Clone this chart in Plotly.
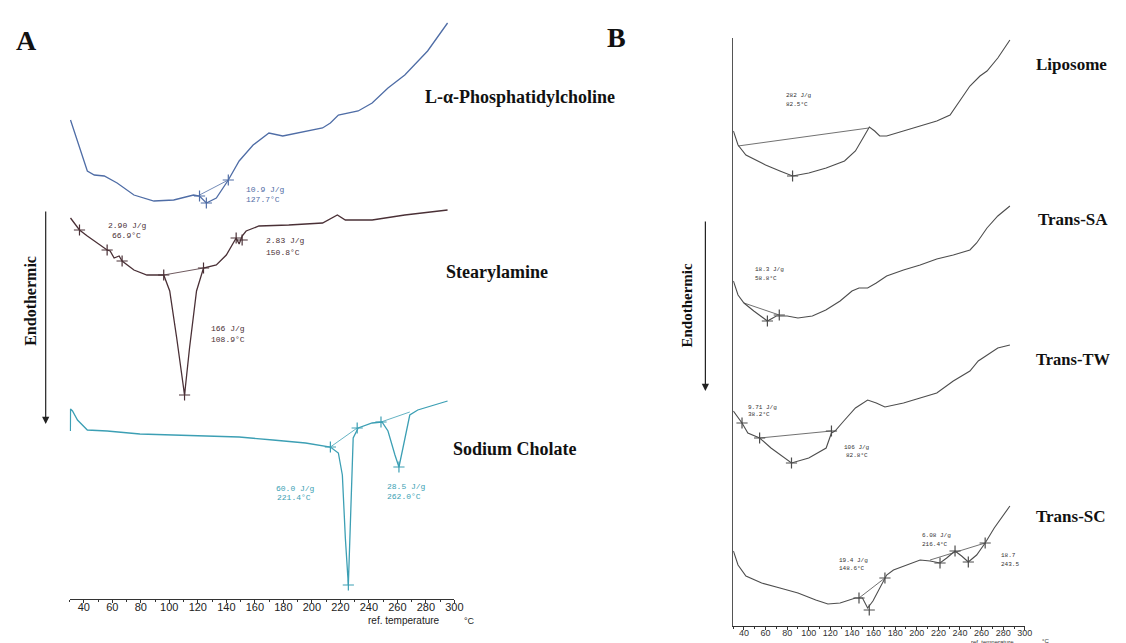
import plotly.graph_objects as go

W, H = 1126, 643

# ---------------- Panel A data (temperature °C, heat-flow signal a.u.) ----------------
pc_T = [30.7, 37.0, 42.5, 47.4, 54.4, 63.4, 75.2, 89.2, 103.1, 117.0, 121.2, 126.0, 133.0, 141.4, 149.0,
        158.8, 169.9, 179.6, 190.8, 207.5, 213.0, 218.6, 232.5, 242.3, 253.4, 265.2, 281.2, 295.2]
pc_v = [479, 451, 428, 424, 423, 416, 404, 398, 399, 404, 403, 396, 401, 419, 438,
        454, 466, 463, 466, 471, 476, 484, 488, 496, 511, 524, 548, 576]
pc_base_T = [121.2, 141.4]
pc_base_v = [404, 419]
pc_mark_T = [121.2, 126.0, 141.4]
pc_mark_v = [403, 396, 419]

sa_T = [30.7, 37.0, 42.5, 49.5, 56.4, 58.5, 61.3, 64.8, 66.9, 75.2, 84.3, 96.1, 100.3, 105.2, 110.7,
        114.2, 119.1, 124.0, 133.0, 140.0, 146.9, 149.0, 151.1, 153.9, 162.9, 183.8, 207.5, 217.9,
        223.5, 242.3, 265.2, 295.2]
sa_v = [381, 369, 363, 356, 349, 348, 341, 343, 338, 329, 324, 324, 308, 261, 204,
        251, 308, 331, 334, 344, 361, 355, 363, 368, 373, 374, 376, 384,
        379, 379, 384, 389]
sa_base_T = [96.1, 124.0]
sa_base_v = [324, 331]
sa_mark_T = [37.0, 56.4, 66.9, 96.1, 110.7, 124.0, 146.9, 151.1]
sa_mark_v = [369, 349, 338, 324, 204, 331, 361, 359]

sc_T = [30.6, 30.7, 32.1, 35.6, 42.5, 56.4, 79.4, 103.1, 137.9, 149.0, 172.7, 195.6, 213.0, 218.6,
        221.4, 223.5, 225.6, 227.0, 229.0, 232.5, 242.3, 249.2, 253.4, 258.3, 261.1, 263.9, 268.7,
        274.3, 295.2]
sc_v = [168, 190, 188, 179, 169, 168, 165, 164, 163, 162, 159, 156, 152, 146,
        124, 61, 14, 78, 161, 171, 176, 177, 168, 144, 132, 151, 184,
        189, 198]
sc_base1_T = [213.0, 231.8]
sc_base1_v = [152, 171]
sc_base2_T = [248.5, 268.7]
sc_base2_v = [177, 187]
sc_mark_T = [213.0, 225.6, 231.8, 248.5, 261.1]
sc_mark_v = [152, 14, 171, 177, 132]

# ---------------- Panel B data ----------------
lip_T = [30.2, 34.5, 41.8, 60.0, 73.3, 85.0, 100.0, 116.1, 133.1, 143.2, 151.3, 156.1, 161.0, 165.7,
         172.1, 187.7, 203.1, 218.5, 230.8, 240.0, 249.2, 258.5, 265.0, 275.0, 286.2]
lip_v = [495, 481, 471, 461, 455, 450, 453, 458, 465, 475, 490, 499, 495, 490,
         490, 495, 500, 505, 511, 525, 540, 550, 555, 568, 586]
lip_base_T = [34.5, 155.5]
lip_base_v = [480, 498]
lip_mark_T = [85.0]
lip_mark_v = [450]

tsa_T = [30.2, 34.5, 40.0, 49.1, 61.7, 70.0, 80.0, 90.0, 103.3, 115.8, 129.0, 140.0, 146.5, 154.5,
         162.5, 172.1, 187.7, 203.1, 218.5, 233.8, 249.2, 255.4, 265.0, 275.0, 286.2]
tsa_v = [345, 331, 323, 315, 305, 310, 310, 308, 310, 316, 325, 335, 338, 338,
         343, 350, 356, 361, 367, 371, 376, 383, 398, 410, 420]
tsa_base_T = [40.0, 72.7]
tsa_base_v = [323, 311]
tsa_mark_T = [61.7, 72.7]
tsa_mark_v = [305, 311]

ttw_T = [30.2, 38.2, 43.6, 54.5, 65.0, 84.0, 100.0, 116.1, 121.0, 124.3, 132.4, 143.2, 154.5, 162.5,
         170.5, 187.7, 203.1, 218.5, 233.8, 249.2, 256.9, 265.0, 275.0, 286.2]
ttw_v = [215, 203, 193, 188, 178, 163, 168, 178, 193, 195, 205, 218, 226, 223,
         219, 223, 228, 233, 245, 255, 265, 271, 278, 281]
ttw_base_T = [54.5, 121.0]
ttw_base_v = [188, 195]
ttw_mark_T = [38.2, 54.5, 84.0, 121.0]
ttw_mark_v = [203, 188, 163, 195]

tsc_T = [30.2, 34.5, 41.8, 56.4, 73.3, 90.0, 106.5, 117.7, 129.0, 143.2, 149.7, 154.5, 159.4, 167.3,
         172.1, 178.4, 191.1, 203.1, 212.3, 221.5, 227.7, 235.4, 241.5, 247.7, 255.4, 263.3, 271.7, 286.2]
tsc_v = [75, 61, 50, 43, 38, 33, 26, 22, 23, 28, 28, 18, 25, 41,
         51, 56, 61, 66, 65, 63, 68, 75, 70, 64, 71, 83, 98, 120]
tsc_base1_T = [146.5, 170.5]
tsc_base1_v = [28, 48]
tsc_base2_T = [212.3, 263.3]
tsc_base2_v = [66, 83]
tsc_mark_T = [146.5, 156.0, 170.5, 221.5, 235.4, 247.7, 263.3]
tsc_mark_v = [28, 16, 48, 63, 75, 64, 83]

tick_vals = list(range(40, 301, 20))
tick_text = [str(t) for t in tick_vals]

# ---------------- styling ----------------
C_PC = "#4f6da6"
C_SA = "#4a3036"
C_SC = "#3c9fb4"
C_B = "#4d4d4d"


def px(x):
    return x / W


def py(y):
    return 1 - y / H


fig = go.Figure()


def add_curve(T, v, color, xa, ya, width=1.3):
    fig.add_trace(go.Scatter(x=T, y=v, mode="lines", line=dict(color=color, width=width),
                             xaxis=xa, yaxis=ya, showlegend=False, hoverinfo="skip"))


def add_marks(T, v, color, xa, ya):
    fig.add_trace(go.Scatter(x=T, y=v, mode="markers",
                             marker=dict(symbol="cross-thin", size=8, line=dict(color=color, width=1.2)),
                             xaxis=xa, yaxis=ya, showlegend=False, hoverinfo="skip"))


# Panel A
add_curve(pc_T, pc_v, C_PC, "x", "y")
add_curve(pc_base_T, pc_base_v, C_PC, "x", "y", 0.8)
add_marks(pc_mark_T, pc_mark_v, C_PC, "x", "y")
add_curve(sa_T, sa_v, C_SA, "x", "y")
add_curve(sa_base_T, sa_base_v, C_SA, "x", "y", 0.8)
add_marks(sa_mark_T, sa_mark_v, C_SA, "x", "y")
add_curve(sc_T, sc_v, C_SC, "x", "y")
add_curve(sc_base1_T, sc_base1_v, C_SC, "x", "y", 0.8)
add_curve(sc_base2_T, sc_base2_v, C_SC, "x", "y", 0.8)
add_marks(sc_mark_T, sc_mark_v, C_SC, "x", "y")

# Panel B
for T, v, bT, bv, mT, mv in [
    (lip_T, lip_v, lip_base_T, lip_base_v, lip_mark_T, lip_mark_v),
    (tsa_T, tsa_v, tsa_base_T, tsa_base_v, tsa_mark_T, tsa_mark_v),
    (ttw_T, ttw_v, ttw_base_T, ttw_base_v, ttw_mark_T, ttw_mark_v),
    (tsc_T, tsc_v, tsc_base1_T, tsc_base1_v, tsc_mark_T, tsc_mark_v),
]:
    add_curve(T, v, C_B, "x2", "y2", 1.1)
    add_curve(bT, bv, C_B, "x2", "y2", 0.8)
    add_marks(mT, mv, C_B, "x2", "y2")
add_curve(tsc_base2_T, tsc_base2_v, C_B, "x2", "y2", 0.8)

axis_common = dict(showgrid=False, zeroline=False, showline=True, linecolor="#333", linewidth=1.2,
                   ticks="outside", ticklen=3, tickcolor="#333", tickvals=tick_vals, ticktext=tick_text,
                   range=[30, 300], fixedrange=True, ticklabelstandoff=-5,
                   minor=dict(dtick=10, tick0=30, ticks="outside", ticklen=2, tickcolor="#333"))

fig.update_layout(
    width=W, height=H, margin=dict(l=0, r=0, t=0, b=0),
    paper_bgcolor="white", plot_bgcolor="white", showlegend=False,
    xaxis=dict(domain=[px(62), px(450)], anchor="y",
               tickfont=dict(family="Liberation Sans Narrow, Arial Narrow, Liberation Sans", size=11, color="#222"),
               **axis_common),
    yaxis=dict(domain=[py(591), 1], range=[0, 591], visible=False, fixedrange=True),
    xaxis2=dict(domain=[px(731), px(1025)], anchor="y2",
                tickfont=dict(family="Liberation Sans Narrow, Arial Narrow, Liberation Sans", size=9, color="#333"),
                **axis_common),
    yaxis2=dict(domain=[py(618), py(30)], range=[0, 588], anchor="x2", showline=True, linecolor="#555",
                linewidth=1.2, showticklabels=False, ticks="", showgrid=False, zeroline=False, fixedrange=True),
)

ann = []


def text(x, y, s, size, color="#111", family="Liberation Serif", bold=True, anchor="left", angle=0):
    ann.append(dict(x=px(x), y=py(y), xref="paper", yref="paper", text=(f"<b>{s}</b>" if bold else s),
                    showarrow=False, xanchor=anchor, yanchor="middle", textangle=angle,
                    font=dict(family=family, size=size, color=color)))


# Panel letters
text(6, 33, "A", 28)
text(602, 29, "B", 28)
# Sample names
text(418, 89, "L-α-Phosphatidylcholine", 18)
text(440, 264, "Stearylamine", 18)
text(447, 441, "Sodium Cholate", 18)
text(1034, 57, "Liposome", 17)
text(1036, 211, "Trans-SA", 17)
text(1034, 351, "Trans-TW", 16.5)
text(1034, 508, "Trans-SC", 17)
# Endothermic labels
text(22, 293, "Endothermic", 16, anchor="center", angle=-90)
text(684, 297, "Endothermic", 15, anchor="center", angle=-90)

# small instrument labels
MONO = "Liberation Mono, DejaVu Sans Mono"
small = [
    (238, 181, "10.9 J/g", C_PC), (238, 191, "127.7°C", C_PC),
    (99, 217, "2.90 J/g", C_SA), (103, 228, "66.9°C", C_SA),
    (258, 233, "2.83 J/g", C_SA), (258, 244, "150.8°C", C_SA),
    (203, 320, "166 J/g", C_SA), (203, 331, "108.9°C", C_SA),
    (268, 480, "60.0 J/g", C_SC), (269, 490, "221.4°C", C_SC),
    (380, 478, "28.5 J/g", C_SC), (380, 488, "262.0°C", C_SC),
]
for x, y, s, c in small:
    text(x, y, s, 8, color=c, family=MONO, bold=False)

smallB = [
    (782, 87, "282 J/g"), (782, 96, "82.5°C"),
    (751, 261, "18.3 J/g"), (751, 270, "58.8°C"),
    (744, 399, "9.71 J/g"), (744, 406, "38.2°C"),
    (841, 439, "106 J/g"), (843, 447, "82.8°C"),
    (836, 552, "19.4 J/g"), (836, 560, "148.6°C"),
    (919, 527, "6.08 J/g"), (919, 536, "216.4°C"),
    (999, 547, "18.7"), (999, 556, "243.5"),
]
for x, y, s in smallB:
    text(x, y, s, 6, color="#333", family=MONO, bold=False)

# axis captions
text(399, 612, "ref. temperature", 10, color="#222", family="Liberation Sans Narrow, Liberation Sans", bold=False, anchor="center")
text(458, 613, "°C", 9, color="#222", family="Liberation Sans", bold=False)
text(992, 634, "ref. temperature", 6, color="#333", family="Liberation Sans Narrow, Liberation Sans", bold=False, anchor="center")
text(1040, 633, "°C", 6, color="#333", family="Liberation Sans", bold=False)

# Endothermic arrows
for x, y0, y1 in [(38, 202, 416), (703, 212, 383)]:
    ann.append(dict(x=px(x), y=py(y1), xref="paper", yref="paper", ax=0, ay=-(y1 - y0),
                    axref="pixel", ayref="pixel", showarrow=True, arrowhead=2, arrowsize=1.2,
                    arrowwidth=1.2, arrowcolor="#222", text=""))

fig.update_layout(annotations=ann)
fig.write_html("out.html")
